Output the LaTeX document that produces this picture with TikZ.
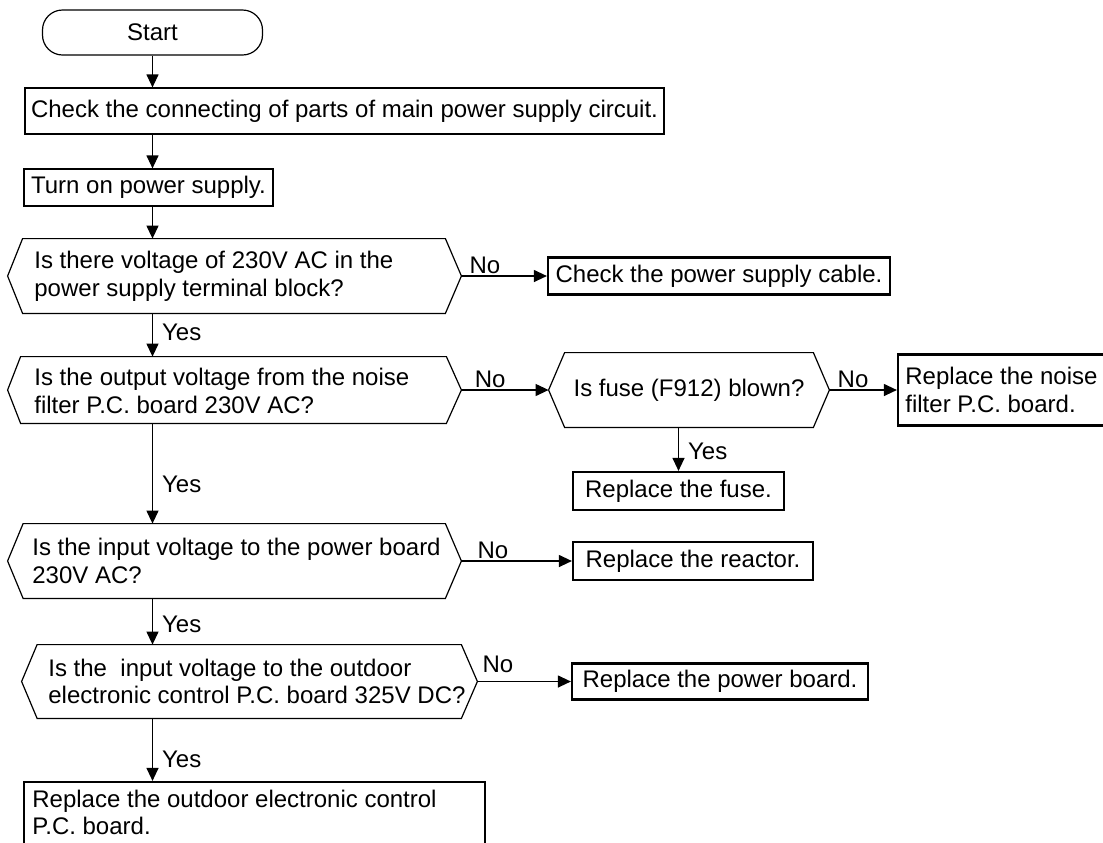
\documentclass[tikz,border=0pt]{standalone}
\usepackage{fontspec}
\setmainfont{Liberation Sans}
\usetikzlibrary{arrows.meta,calc}
\newcommand\hexout[3]{\draw[hexline] ($(#1.north west)+(#2,0)$) -- ($(#1.north east)+(-#3,0)$) -- (#1.east) -- ($(#1.south east)+(-#3,0)$) -- ($(#1.south west)+(#2,0)$) -- (#1.west) -- cycle;}
\begin{document}
\begin{tikzpicture}[x=0.5pt,y=-0.5pt,
  font=\fontsize{12pt}{13.8pt}\selectfont,
  startbox/.style={draw, line width=0.6pt, rounded corners=10pt, minimum width=110pt, minimum height=22.5pt, inner sep=0pt},
  thinbox/.style={draw, line width=0.6pt, inner sep=0pt},
  actbox/.style={draw, line width=1.1pt, inner sep=0pt},
  hexa/.style={inner sep=0pt, minimum width=226.5pt},
  hexline/.style={line width=0.6pt, line join=miter},
  qtext/.style={anchor=west, align=left, inner sep=0pt},
  arr/.style={line width=0.6pt, -{Triangle[length=6.5pt,width=6pt]}},
  yeslbl/.style={anchor=west, inner xsep=4.5pt, inner ysep=0pt},
  nolbl/.style={anchor=south, inner sep=1pt}]

\useasboundingbox (0,0) rectangle (1103,842);
\clip (0,0) rectangle (1103,842);
\fill[white] (0,0) rectangle (1103,842);

% main column
\node[startbox] (st) at (152.5,32.5) {Start};
\node[thinbox, minimum width=319.5pt, minimum height=23pt] (b1) at (344.5,111) {Check the connecting of parts of main power supply circuit.};
\node[thinbox, minimum width=124.5pt, minimum height=18.5pt] (b2) at (148.5,187.5) {Turn on power supply.};

\node[hexa, minimum height=37pt] (d1) at (234.5,276) {};
\hexout{d1}{15}{16}
\node[qtext] (t1) at (34,276) {Is there voltage of 230V AC in the\\power supply terminal block?};

\node[hexa, minimum height=33pt] (d2) at (234.5,390) {};
\hexout{d2}{13}{15}
\node[qtext] (t2) at (34,391) {Is the output voltage from the noise\\filter P.C. board 230V AC?};

\node[hexa, minimum height=37pt] (d4) at (234.5,561) {};
\hexout{d4}{15.5}{16}
\node[qtext] (t4) at (32,561) {Is the input voltage to the power board\\230V AC?};

\node[hexa, minimum width=227.5pt, minimum height=36.5pt] (d5) at (249.5,681.5) {};
\hexout{d5}{15.5}{16}
\node[qtext] (t5) at (48,681.5) {Is the\ \ input voltage to the outdoor\\electronic control P.C. board 325V DC?};

\node[actbox, minimum width=230.5pt, minimum height=44pt] (fin) at (254.5,826) {};
\node[qtext] (tf) at (32,812.5) {Replace the outdoor electronic control\\P.C. board.};

% right side
\node[actbox, minimum width=171pt, minimum height=18.5pt] (cb) at (719,276) {Check the power supply cable.};

\node[hexa, minimum width=140pt, minimum height=37pt] (d3) at (689,390) {};
\hexout{d3}{16}{16}
\node[inner sep=0pt] (t3) at (689,390) {Is fuse (F912) blown?};

\node[actbox, minimum width=107pt, minimum height=35.5pt] (nb) at (1005,390) {};
\node[qtext] (tn) at (905,390) {Replace the noise\\filter P.C. board.};

\node[actbox, minimum width=105.5pt, minimum height=19pt] (fb) at (678.5,491) {Replace the fuse.};
\node[actbox, minimum width=120pt, minimum height=19pt] (rb) at (693,561) {Replace the reactor.};
\node[actbox, minimum width=148pt, minimum height=18pt] (pb) at (720,681.5) {Replace the power board.};

% connectors
\draw[arr] (st.south) -- (st.south |- b1.north);
\draw[arr] (st.south |- b1.south) -- (st.south |- b2.north);
\draw[arr] (st.south |- b2.south) -- (st.south |- d1.north);
\draw[arr] (d1.east) -- node[nolbl, pos=0.276] (n1) {No} (cb.west);
\draw[arr] (st.south |- d1.south) -- node[yeslbl, pos=0.45] (y1) {Yes} (st.south |- d2.north);
\draw[arr] (d2.east) -- node[nolbl, pos=0.33] (n2) {No} (d3.west);
\draw[arr] (d3.east) -- node[nolbl, pos=0.35] (n3) {No} (nb.west);
\draw[arr] (d3.south -| fb.north) -- node[yeslbl, pos=0.56] (y3) {Yes} (fb.north);
\draw[arr] (st.south |- d2.south) -- node[yeslbl, pos=0.61] (y2) {Yes} (st.south |- d4.north);
\draw[arr] (d4.east) -- node[nolbl, pos=0.286] (n4) {No} (rb.west);
\draw[arr] (st.south |- d4.south) -- node[yeslbl, pos=0.56] (y4) {Yes} (st.south |- d5.north);
\draw[arr] (d5.east) -- node[nolbl, pos=0.22, yshift=3pt] (n5) {No} (pb.west);
\draw[arr] (st.south |- d5.south) -- node[yeslbl, pos=0.66] (y5) {Yes} (st.south |- fin.north);
\end{tikzpicture}
\end{document}
